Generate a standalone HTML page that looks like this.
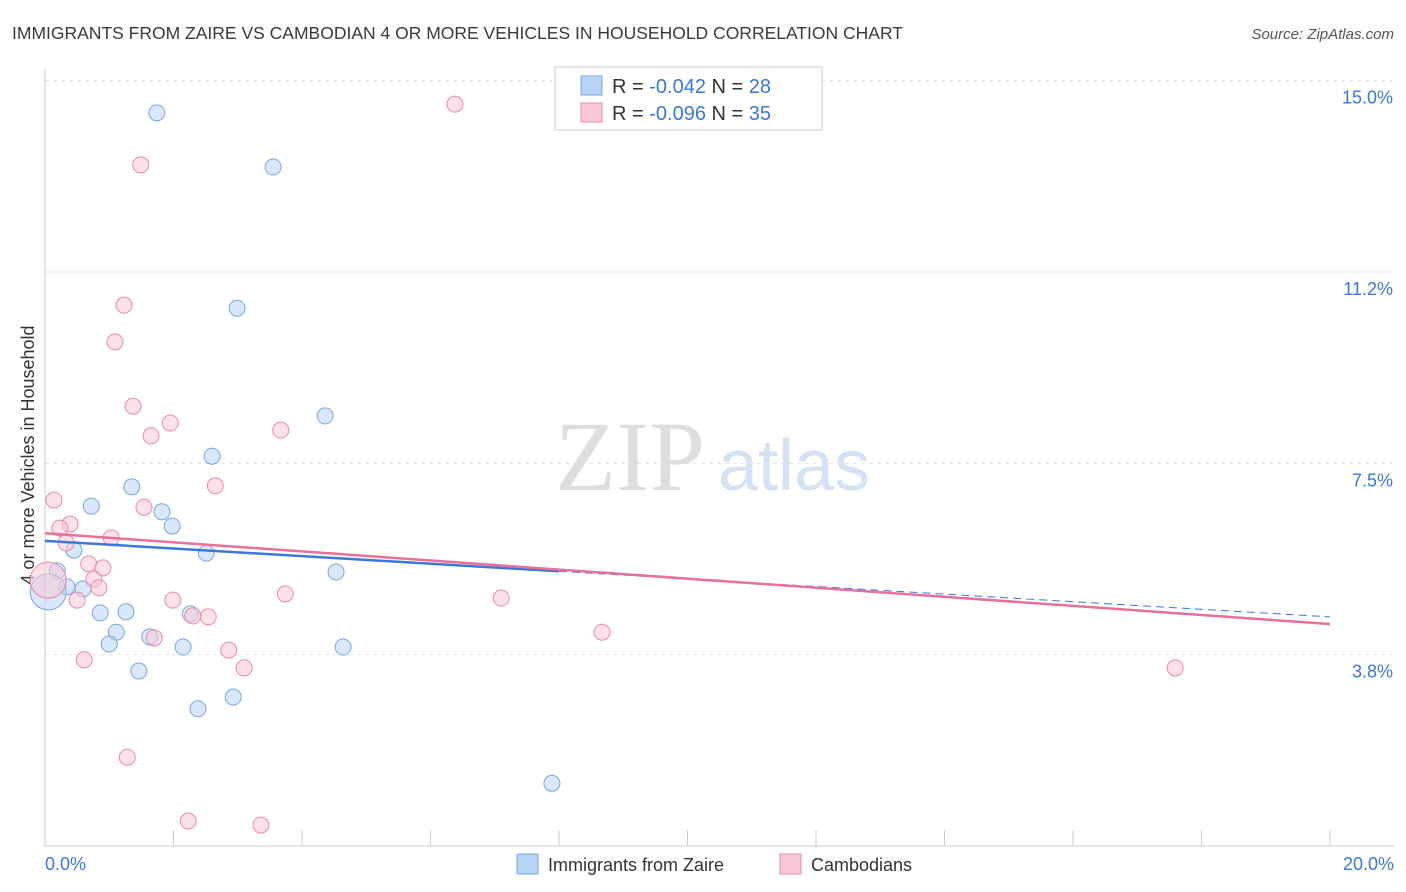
<!DOCTYPE html>
<html><head><meta charset="utf-8"><style>
body{margin:0;background:#fff;font-family:"Liberation Sans",sans-serif;}
svg{display:block}
</style></head><body>
<svg id="c" width="1406" height="892" viewBox="0 0 1406 892">
<text x="12" y="39" font-size="17.5" fill="#3a3a3a">IMMIGRANTS FROM ZAIRE VS CAMBODIAN 4 OR MORE VEHICLES IN HOUSEHOLD CORRELATION CHART</text>
<text x="1394" y="39" font-size="15" fill="#555" font-style="italic" text-anchor="end">Source: ZipAtlas.com</text>
<text x="555" y="490" font-size="100" fill="#dedede" font-family="Liberation Serif,serif">ZIP</text>
<text x="718" y="490" font-size="72" fill="#d4e2f4">atlas</text>
<text transform="translate(34,455) rotate(-90)" font-size="18" fill="#333" text-anchor="middle">4 or more Vehicles in Household</text>
<g id="grid"></g><g id="marks"></g>
<g>
<rect x="555" y="67" width="267" height="63" fill="#fff" stroke="#ccc"/>
<rect x="581" y="76" width="21" height="19" fill="#b9d3f5" stroke="#7aa6e0"/>
<rect x="581" y="103" width="21" height="19" fill="#f9c8d6" stroke="#e88aaa"/>
<text x="612" y="93" font-size="20" fill="#333">R = <tspan fill="#3b78d8">-0.042</tspan>   N = <tspan fill="#3b78d8">28</tspan></text>
<text x="612" y="120" font-size="20" fill="#333">R = <tspan fill="#3b78d8">-0.096</tspan>   N = <tspan fill="#3b78d8">35</tspan></text>
</g>
<g>
<rect x="517" y="854" width="21" height="20" fill="#b9d3f5" stroke="#7aa6e0"/>
<text x="548" y="871" font-size="18" fill="#333">Immigrants from Zaire</text>
<rect x="780" y="854" width="21" height="20" fill="#f9c8d6" stroke="#e88aaa"/>
<text x="811" y="871" font-size="18" fill="#333">Cambodians</text>
</g>
</svg>
<script>
const yTicks=[3.75,7.5,11.25,15];
const yTickLabels=["3.8%","7.5%","11.2%","15.0%"];
const xTickLabels=["0.0%","20.0%"];
const zaireX=[1.74,3.55,2.99,4.36,2.60,1.35,0.72,1.82,1.98,0.45,2.51,0.19,4.53,0.34,0.59,0.05,0.86,1.26,2.26,1.11,1.63,1.00,2.15,4.64,1.46,2.93,2.38,7.89];
const zaireY=[14.37,13.31,10.54,8.43,7.64,7.04,6.66,6.55,6.27,5.80,5.74,5.39,5.37,5.08,5.04,4.98,4.57,4.59,4.55,4.19,4.10,3.96,3.90,3.90,3.43,2.92,2.69,1.23];
const zaireBig=[15];
const cambX=[6.38,1.49,1.23,1.09,1.37,1.95,3.67,1.65,2.65,0.14,1.54,0.39,0.23,0.33,1.03,0.68,0.90,0.05,0.76,0.84,0.50,1.99,3.74,7.10,2.30,2.54,1.70,8.67,0.61,2.86,3.10,17.59,1.28,2.23,3.36];
const cambY=[14.54,13.35,10.60,9.88,8.62,8.29,8.15,8.04,7.06,6.78,6.64,6.31,6.23,5.94,6.04,5.53,5.45,5.21,5.23,5.06,4.82,4.82,4.94,4.86,4.51,4.49,4.08,4.19,3.65,3.84,3.49,3.49,1.74,0.49,0.41];
const cambBig=[17];
const zaireTrend=[5.98,4.49];
const cambTrend=[6.13,4.35];
const zaireSolidEnd=8;
const X=v=>45+v/20*1285, Y=v=>846-v/3.75*191.33;
const NS="http://www.w3.org/2000/svg";
function mk(p,t,a){const e=document.createElementNS(NS,t);for(const k in a)e.setAttribute(k,a[k]);p.appendChild(e);return e;}
const g=document.getElementById('grid'),m=document.getElementById('marks');
yTicks.forEach((t,i)=>{
 const l=mk(g,'line',{x1:45,x2:1394,y1:Y(t),y2:Y(t),stroke:'#e2e2e2','stroke-dasharray':'4,4'});
 
 
 const tx=mk(g,'text',{x:1393,y:Y(t)+23,'font-size':18,fill:'#3b78d8','text-anchor':'end'});tx.textContent=yTickLabels[i];
 
 
});
const ax=mk(g,'line',{x1:45,x2:45,y1:68,y2:846,stroke:'#ccc'});


const bx=mk(g,'line',{x1:45,x2:1394,y1:846,y2:846,stroke:'#ccc'});


for(let i=0;i<=10;i++){const t=mk(g,'line',{x1:X(i*2),x2:X(i*2),y1:830,y2:846,stroke:'#ccc'});
 
 }
[[0,'start',45],[1,'end',1394]].forEach(([i,a,x])=>{const t=mk(g,'text',{x:x,y:870,'font-size':18,fill:'#3b78d8','text-anchor':a});t.textContent=xTickLabels[i];
 
 });
function dots(xs,ys,big,fill,stroke,name){xs.forEach((x,i)=>{const r=big.includes(i)?18:8;
 const c=mk(m,'circle',{cx:X(x),cy:Y(ys[i]),r:r,fill:fill,'fill-opacity':0.55,stroke:stroke,'stroke-width':1});
 
 });}
dots(zaireX,zaireY,zaireBig,'#b9d3f5','#7aa6e0','zaire-point');
dots(cambX,cambY,cambBig,'#f9c8d6','#e88aaa','cambodian-point');
const zy=v=>zaireTrend[0]+(zaireTrend[1]-zaireTrend[0])*v/20;
const t1=mk(m,'line',{x1:X(0),y1:Y(zy(0)),x2:X(zaireSolidEnd),y2:Y(zy(zaireSolidEnd)),stroke:'#3b78d8','stroke-width':2.5});


const t2=mk(m,'line',{x1:X(zaireSolidEnd),y1:Y(zy(zaireSolidEnd)),x2:X(20),y2:Y(zy(20)),stroke:'#3b78d8','stroke-width':1,'stroke-dasharray':'8,5'});


const t3=mk(m,'line',{x1:X(0),y1:Y(cambTrend[0]),x2:X(20),y2:Y(cambTrend[1]),stroke:'#e8709a','stroke-width':2.5});


</script>
</body></html>
